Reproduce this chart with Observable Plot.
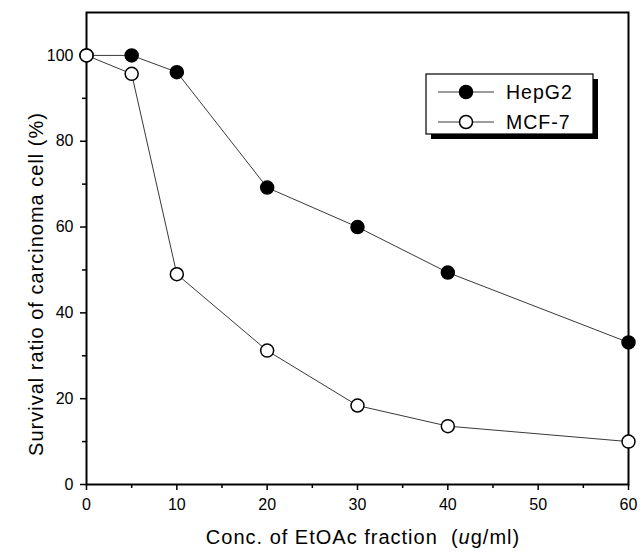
<!DOCTYPE html>
<html><head><meta charset="utf-8">
<script src="https://cdn.jsdelivr.net/npm/d3@7"></script>
<script src="https://cdn.jsdelivr.net/npm/@observablehq/plot@0.6"></script>
<style>body{margin:0;background:#fff;font-family:"Liberation Sans",Arial,sans-serif;}</style>
</head><body><div id="chart"></div>
<script>
const conc = [0, 5, 10, 20, 30, 40, 60];
const hepg2 = [100, 100, 96.1, 69.2, 60, 49.4, 33.1];
const mcf7 = [100, 95.7, 49, 31.2, 18.4, 13.6, 10];
const seriesNames = ["HepG2", "MCF-7"];
const xTicks = [0, 10, 20, 30, 40, 50, 60];
const xMinor = [5, 15, 25, 35, 45, 55];
const yTicks = [0, 20, 40, 60, 80, 100];
const yMinor = [10, 30, 50, 70, 90];

const rows = [];
conc.forEach((c, i) => {
  rows.push({x: c, y: hepg2[i], s: seriesNames[0]});
  rows.push({x: c, y: mcf7[i], s: seriesNames[1]});
});
const W = 642, H = 553, mL = 86, mR = 14, mT = 12, mB = 69;
const chart = Plot.plot({
  width: W, height: H,
  marginLeft: mL, marginRight: mR, marginTop: mT, marginBottom: mB,
  style: {fontFamily: '"Liberation Sans", Arial, sans-serif', fontSize: "16px", color: "#000", background: "#fff"},
  x: {domain: [0, 60]},
  y: {domain: [0, 110]},
  marks: [
    Plot.axisX({ticks: xTicks, tickSize: 6, tickPadding: 8, strokeWidth: 1.5, label: null, fontSize: 16}),
    Plot.axisX({ticks: xMinor, tickSize: 4, text: null, strokeWidth: 1.5, label: null}),
    Plot.axisY({ticks: yTicks, tickSize: 6, tickPadding: 7, strokeWidth: 1.5, label: null, fontSize: 16}),
    Plot.axisY({ticks: yMinor, tickSize: 4, text: null, strokeWidth: 1.5, label: null}),
    Plot.frame({stroke: "#000", strokeWidth: 2}),
    Plot.line(rows, {x: "x", y: "y", z: "s", stroke: "#222", strokeWidth: 0.9}),
    Plot.dot(rows, {x: "x", y: "y", r: 6.5, stroke: "#000", strokeWidth: 1.5,
      fill: d => d.s === seriesNames[0] ? "#000" : "#fff"})
  ]
});
document.getElementById("chart").append(chart);
const svg = d3.select(chart);
// axis labels
svg.append("text").attr("x", 363).attr("y", 544).attr("text-anchor", "middle")
  .style("font-size", "20px").style("letter-spacing", "1px").attr("fill", "#000")
  .call(t => {
    t.append("tspan").text("Conc. of EtOAc fraction  (");
    t.append("tspan").style("font-style", "italic").text("u");
    t.append("tspan").text("g/ml)");
  });
svg.append("text").attr("transform", "translate(43,284) rotate(-90)").attr("text-anchor", "middle")
  .style("font-size", "20px").style("letter-spacing", "1px").attr("fill", "#000").text("Survival ratio of carcinoma cell (%)");
// legend
const lg = svg.append("g");
lg.append("rect").attr("x", 431).attr("y", 79).attr("width", 167).attr("height", 60).attr("fill", "#000");
lg.append("rect").attr("x", 426).attr("y", 74).attr("width", 167).attr("height", 60).attr("fill", "#fff").attr("stroke", "#000").attr("stroke-width", 1.2);
seriesNames.forEach((n, i) => {
  const y = 92 + i * 30;
  lg.append("line").attr("x1", 438).attr("x2", 494).attr("y1", y).attr("y2", y).attr("stroke", "#222").attr("stroke-width", 0.9);
  lg.append("circle").attr("cx", 466).attr("cy", y).attr("r", 6.5).attr("stroke", "#000").attr("stroke-width", 1.5).attr("fill", i === 0 ? "#000" : "#fff");
  lg.append("text").attr("x", 506).attr("y", y).attr("dy", "0.36em").attr("text-anchor", "start")
    .style("font-size", "19.5px").style("letter-spacing", "1px").attr("fill", "#000").text(n);
});
</script></body></html>
